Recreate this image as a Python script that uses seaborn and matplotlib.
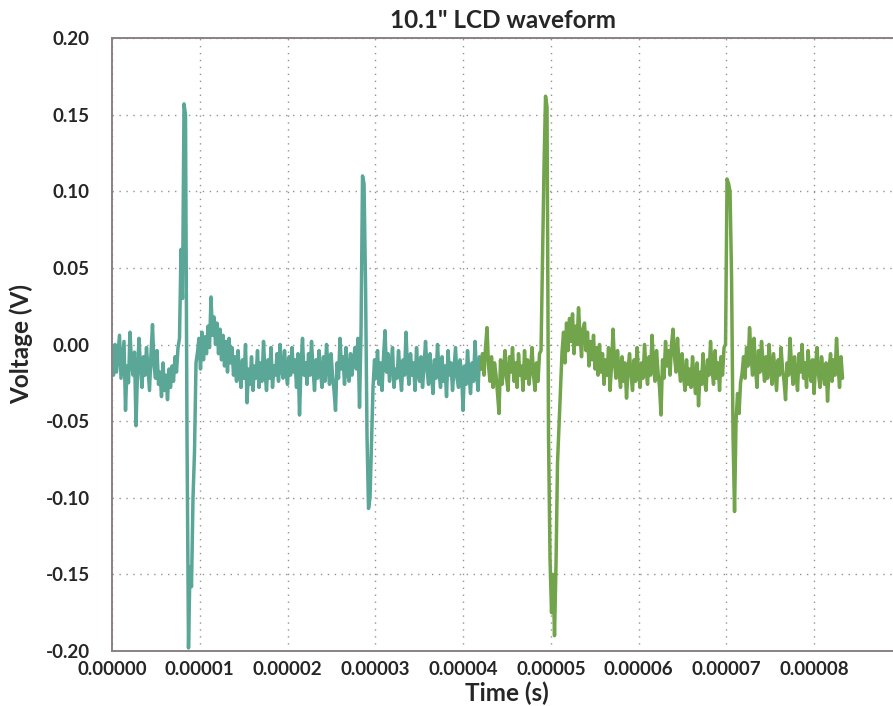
"""
10.1" LCD waveform - two consecutive captures of the same signal
"""
import numpy as np
import matplotlib
matplotlib.use('Agg')
import matplotlib.pyplot as plt
import seaborn as sns

# sample spacing and start of each capture (seconds)
t_step = 1.709e-7
t_start_a = 0.0
t_start_b = 4.204e-5

# capture A (teal), millivolts
volts_a_mv = [
    -12, -20, 0, -18, -6, 6, -22, -10, 2, -43,
    -14, -25, 8, -12, -20, -5, -53, -18, 4, -15,
    -28, -8, -20, -2, -16, -30, -6, 13, -14, -22,
    -4, -26, -18, -34, -12, -30, -20, -36, -16, -28,
    -14, -24, -8, -18, -2, 4, 62, 30, 157, 150,
    -60, -198, -145, -158, -100, -70, -12, -5, 4, -16,
    8, -10, 5, -6, 12, -2, 31, 6, 18, 0,
    14, -6, 10, -10, 6, -14, 2, -18, 4, -12,
    -2, -20, -8, -24, -4, -18, -28, -10, -22, 0,
    -38, -16, -26, -8, -30, -14, -22, -4, -28, -12,
    -24, 2, -18, -30, -10, -22, -2, -28, -14, -20,
    -6, -24, 0, -16, -22, -4, -18, -26, -8, -20,
    -2, -18, -10, -28, -6, -46, -14, 4, -20, -12,
    -26, -6, -20, 2, -16, -30, -10, -22, -4, -18,
    -28, -8, -24, 0, -14, -26, -6, -20, -30, -43,
    -12, -22, 4, -16, -8, -26, -2, -18, -24, -6,
    -20, -10, -2, -16, 4, -41, 8, 110, 105, 40,
    -60, -107, -100, -65, -28, -10, -22, -4, -26, -12,
    -30, -8, 9, -18, -6, -24, -14, -2, -28, -16,
    -22, -4, -18, -30, -10, -20, 8, -16, -26, -6,
    -20, -12, -30, -2, -18, -24, -8, -28, -14, 2,
    -16, -26, -6, -20, -32, -10, -22, 0, -18, -28,
    -8, -24, -14, -34, -4, -20, -12, -30, -16, -2,
    -22, -28, -10, -18, -43, -14, -26, -4, -20, -32,
    -12, -24, 2, -18, -30, -8, -16,
]

# capture B (green), millivolts
volts_b_mv = [
    -16, -6, -20, -2, 11, -14, -24, -8, -28, -12,
    -20, -32, -45, -10, -26, -16, -4, -22, -30, -8,
    -18, -2, -24, -12, -28, -6, -20, -14, -30, -4,
    -22, -10, -26, -16, -2, -20, -30, -12, -24, -6,
    -4, 54, 116, 162, 155, -60, -140, -175, -150, -190,
    -143, -77, -53, -30, -5, 8, -12, 14, -4, 17,
    2, 20, -6, 12, 0, 24, 6, -8, 10, 14,
    -4, 8, -14, 2, -10, 6, -16, -2, -20, 0,
    -18, -6, -26, -10, -20, -2, -30, -14, 10, -12,
    -22, -4, -18, -28, -8, -24, -12, -35, -16, -6,
    -20, -30, -10, -24, -2, -18, -28, -12, -22, 0,
    -16, -26, -8, -20, 6, -14, -24, -4, -18, -28,
    -46, -10, -22, 2, -14, -4, -20, 0, 10, -8,
    -18, 4, -14, -24, -6, -20, -30, -10, -26, -16,
    -28, -8, -22, -32, -12, -40, -18, -26, -6, -24,
    -30, -10, -20, 2, -16, -26, -4, -22, -12, -30,
    -8, -20, -2, 0, 108, 105, 100, 45, -60, -109,
    -50, -32, -45, -25, -19, -8, -22, -2, -14, 11,
    -6, -20, 4, -16, -28, -4, -18, 2, -12, -24,
    -8, -22, 0, -14, -26, -6, -18, -30, -10, -20,
    -2, -16, -24, -36, -12, -20, 4, -14, -26, -8,
    -20, -30, -6, -18, 0, -22, -12, -28, -4, -16,
    -24, -10, -32, -14, -2, -20, -28, -8, -18, -26,
    -12, -37, -16, -6, -24, -10, -20, 4, -14, -28,
    -8, -22,
]

x_ticks = [0.0, 0.00001, 0.00002, 0.00003, 0.00004, 0.00005, 0.00006, 0.00007, 0.00008]
y_ticks = [-0.20, -0.15, -0.10, -0.05, 0.00, 0.05, 0.10, 0.15, 0.20]

teal = '#5aa697'
green = '#72a44b'
frame = '#8c8087'

sns.set_style('white')
plt.rcParams['font.family'] = ['Lato', 'DejaVu Sans']
plt.rcParams['axes.unicode_minus'] = False

time_a = t_start_a + t_step * np.arange(len(volts_a_mv))
time_b = t_start_b + t_step * np.arange(len(volts_b_mv))
volts_a = np.array(volts_a_mv) / 1000.0
volts_b = np.array(volts_b_mv) / 1000.0

fig = plt.figure(figsize=(8.93, 7.06), dpi=100)
ax = fig.add_axes([112 / 893, 55 / 706, 790 / 893, 613 / 706])

sns.lineplot(x=time_a, y=volts_a, color=teal, linewidth=2.5, sort=False, estimator=None, ax=ax)
sns.lineplot(x=time_b, y=volts_b, color=green, linewidth=2.5, sort=False, estimator=None, ax=ax)

ax.set_xlim(0, 0.00009)
ax.set_ylim(-0.2, 0.2)
ax.set_xticks(x_ticks)
ax.set_yticks(y_ticks)
ax.set_xticklabels(['%.5f' % v for v in x_ticks])
ax.set_yticklabels(['%.2f' % v for v in y_ticks])
ax.grid(True, linestyle=(0, (1, 4)), color='#9a8f94', linewidth=1.0)

for side in ['left', 'bottom', 'top']:
    ax.spines[side].set_color(frame)
    ax.spines[side].set_linewidth(1.4)
ax.spines['right'].set_visible(False)

ax.tick_params(axis='both', direction='in', length=5, color=frame, labelsize=13.5)
ax.tick_params(axis='x', pad=7)
ax.tick_params(axis='y', pad=16)
for lab in ax.get_xticklabels() + ax.get_yticklabels():
    lab.set_fontweight('bold')

ax.set_title('10.1" LCD waveform', fontsize=17.5, fontweight='bold', pad=7, x=0.495)
ax.set_xlabel('Time (s)', fontsize=17.5, fontweight='bold', labelpad=3)
ax.set_ylabel('Voltage (V)', fontsize=17.5, fontweight='bold', labelpad=9)

fig.savefig('out.png', dpi=100)
